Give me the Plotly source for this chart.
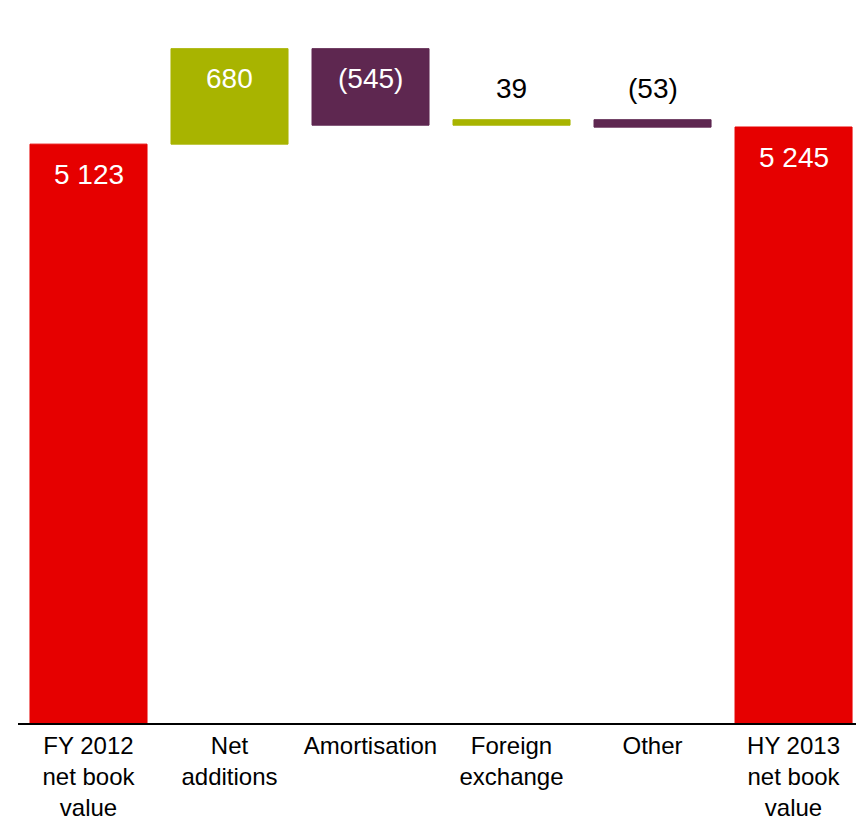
import plotly.graph_objects as go

# Intangible assets bridge (€m)
categories = [
    "FY 2012<br>net book<br>value",
    "Net<br>additions",
    "Amortisation",
    "Foreign<br>exchange",
    "Other",
    "HY 2013<br>net book<br>value",
]
values = [5123, 680, -545, 39, -53, 5245]
measures = ["absolute", "relative", "relative", "relative", "relative", "absolute"]

RED = "#E60000"
OLIVE = "#A8B400"
AUBERGINE = "#5E2750"
FONT = "Liberation Sans, Arial, sans-serif"


def fmt(v):
    s = f"{abs(v):,}".replace(",", " ")
    return f"({s})" if v < 0 else s


# top of each bar, following the running total
tops = []
running = 0
for v, m in zip(values, measures):
    if m == "absolute":
        running = v
        tops.append(v)
    else:
        start, end = running, running + v
        tops.append(max(start, end))
        running = end

label_inside = [True, True, True, False, False, True]

fig = go.Figure(
    go.Waterfall(
        x=categories,
        y=values,
        measure=measures,
        increasing=dict(marker=dict(color=OLIVE, line=dict(color=OLIVE, width=1))),
        decreasing=dict(marker=dict(color=AUBERGINE, line=dict(color=AUBERGINE, width=1))),
        totals=dict(marker=dict(color=RED, line=dict(color=RED, width=1))),
        connector=dict(visible=False),
        hoverinfo="skip",
    )
)

for cat, v, top, inside in zip(categories, values, tops, label_inside):
    fig.add_annotation(
        x=cat,
        y=top,
        text=fmt(v),
        showarrow=False,
        yanchor="middle",
        yshift=-30 if inside else 31,
        font=dict(family=FONT, size=28, color="#FFFFFF" if inside else "#000000"),
    )

fig.update_layout(
    width=856,
    height=821,
    margin=dict(l=18, r=0, t=21, b=98),
    paper_bgcolor="white",
    plot_bgcolor="white",
    waterfallgap=0.17,
    showlegend=False,
    font=dict(family=FONT, color="#000000"),
)
fig.update_xaxes(
    type="category",
    range=[-0.5, 5.443],
    automargin=False,
    showline=True,
    linecolor="#000000",
    linewidth=2,
    ticks="",
    showgrid=False,
    zeroline=False,
    tickfont=dict(family=FONT, size=24, color="#000000"),
)
fig.update_yaxes(
    range=[1000, 6000],
    visible=False,
    automargin=False,
    showgrid=False,
    zeroline=False,
)

fig.write_html("out.html")
